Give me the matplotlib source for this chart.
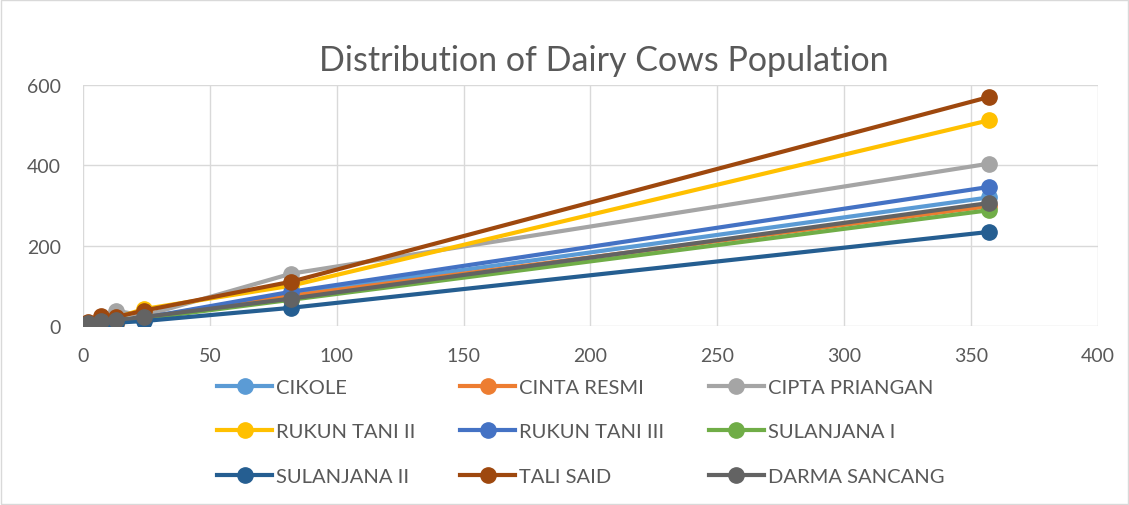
import matplotlib.pyplot as plt

plt.rcParams['font.family'] = ['Lato', 'DejaVu Sans']

# Shared x values (days)
x = [1, 2, 7, 13, 24, 82, 357]

names = ['CIKOLE', 'CINTA RESMI', 'CIPTA PRIANGAN', 'RUKUN TANI II', 'RUKUN TANI III',
         'SULANJANA I', 'SULANJANA II', 'TALI SAID', 'DARMA SANCANG']
cikole = [3, 5, 10, 12, 20, 80, 320]
cinta_resmi = [2, 4, 8, 5, 18, 75, 298]
cipta_priangan = [4, 8, 12, 38, 25, 130, 404]
rukun_tani_2 = [3, 6, 15, 20, 42, 100, 512]
rukun_tani_3 = [2, 5, 10, 12, 20, 85, 346]
sulanjana_1 = [2, 3, 8, 10, 18, 65, 288]
sulanjana_2 = [1, 3, 6, 8, 12, 45, 234]
tali_said = [4, 10, 25, 22, 38, 110, 570]
darma_sancang = [2, 6, 12, 15, 22, 68, 306]

series = [cikole, cinta_resmi, cipta_priangan, rukun_tani_2, rukun_tani_3,
          sulanjana_1, sulanjana_2, tali_said, darma_sancang]
colors = ['#5B9BD5', '#ED7D31', '#A5A5A5', '#FFC000', '#4472C4',
          '#70AD47', '#255E91', '#9E480E', '#636363']

fig = plt.figure(figsize=(11.29, 5.06), dpi=100)
ax = fig.add_axes([0.0735, 0.354, 0.899, 0.476])

lines = []
for name, vals, c in zip(names, series, colors):
    ln, = ax.plot(x, vals, color=c, lw=3, marker='o', ms=11, label=name)
    lines.append(ln)

ax.set_xlim(0, 400)
ax.set_ylim(0, 600)
ax.set_xticks(range(0, 401, 50))
ax.set_yticks(range(0, 601, 200))
ax.grid(True, color='#D9D9D9', lw=1)
ax.set_axisbelow(True)
for s in ax.spines.values():
    s.set_visible(False)
ax.tick_params(length=0, labelsize=14, labelcolor='#595959')
ax.tick_params(axis='x', pad=15)
ax.tick_params(axis='y', pad=16)

fig.text(0.535, 0.86, 'Distribution of Dairy Cows Population', ha='center',
         fontsize=24.5, color='#595959')

# legend fills row by row in the reference
order = [0, 3, 6, 1, 4, 7, 2, 5, 8]
fig.legend([lines[i] for i in order], [names[i] for i in order],
           loc='upper left', bbox_to_anchor=(0.176, 0.285), ncol=3, frameon=False,
           fontsize=14.5, labelcolor='#595959', handlelength=2.75, columnspacing=2.2,
           labelspacing=1.36, handletextpad=0.2)

fig.patches.append(plt.Rectangle((0.001, 0.001), 0.998, 0.997, transform=fig.transFigure,
                                 fill=False, ec='#D9D9D9', lw=1))

plt.savefig('out.png')
